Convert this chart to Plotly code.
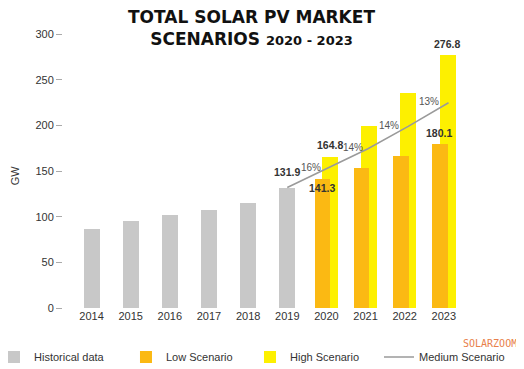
import plotly.graph_objects as go

hist_years = [2014, 2015, 2016, 2017, 2018, 2019]
hist_values = [86.5, 95, 102, 107.3, 115.3, 131.9]
scen_years = [2020, 2021, 2022, 2023]
low_values = [141.3, 153, 166.5, 180.1]
high_values = [164.8, 199, 235.5, 276.8]
med_years = [2019, 2020, 2021, 2022, 2023]
med_values = [131.9, 153.0, 174.4, 198.8, 224.7]
growth_labels = ["16%", "14%", "14%", "13%"]
tick_years = list(range(2014, 2024))
y_ticks = [0, 50, 100, 150, 200, 250, 300]

GRAY = "#c8c8c8"
ORANGE = "#fbb913"
YELLOW = "#fdf000"
LINE = "#9a9a9a"
TXT = "#333333"
FONT = "Liberation Sans, Arial, sans-serif"

fig = go.Figure()
fig.add_trace(go.Bar(x=hist_years, y=hist_values, name="Historical data",
                     marker=dict(color=GRAY, line=dict(width=0)),
                     offset=-0.205, width=0.41, legend="legend"))
fig.add_trace(go.Bar(x=scen_years, y=high_values, name="High Scenario",
                     marker=dict(color=YELLOW, line=dict(width=0)),
                     offset=-0.11, width=0.41, legend="legend3"))
fig.add_trace(go.Bar(x=scen_years, y=low_values, name="Low Scenario",
                     marker=dict(color=ORANGE, line=dict(width=0)),
                     offset=-0.30, width=0.40, legend="legend2"))
fig.add_trace(go.Scatter(x=[y + 0.03 * i for i, y in enumerate(med_years)],
                         y=med_values, name="Medium Scenario", mode="lines",
                         line=dict(color=LINE, width=1.5), legend="legend4"))

ann = []
vals = [
    (2019, 131.9, 0.0, 16),
    (2020, 164.8, 0.09, 12.5),
    (2020, 141.3, -0.10, -8.7),
    (2023, 180.1, -0.13, 10.6),
    (2023, 276.8, 0.08, 11),
]
for yr, v, dx, ys in vals:
    ann.append(dict(x=yr + dx, y=v, yshift=ys, text="<b>%.1f</b>" % v, showarrow=False,
                    font=dict(family=FONT, size=10.5, color=TXT), xref="x", yref="y"))
pct_dx = [-0.39, -0.31, -0.39, -0.39]
for yr, mv, lab, dx in zip(med_years[1:], med_values[1:], growth_labels, pct_dx):
    ann.append(dict(x=yr + dx, y=mv, yshift=1, text=lab, showarrow=False,
                    font=dict(family=FONT, size=10, color="#555555"), xref="x", yref="y"))

# title
ann.append(dict(x=0.46, y=1.022, xref="paper", yref="paper", yanchor="middle", xanchor="center",
                text="<b>TOTAL SOLAR PV MARKET</b><br><b>SCENARIOS <span style='font-size:13px'>2020 - 2023</span></b>",
                showarrow=False, align="center",
                font=dict(family="DejaVu Sans, sans-serif", size=17, color="#111111")))
# axis title
ann.append(dict(x=-0.117, y=0.485, xref="paper", yref="paper", xanchor="center", yanchor="middle",
                text="GW", showarrow=False, textangle=-90,
                font=dict(family=FONT, size=11, color=TXT)))
# watermark
ann.append(dict(x=1.044, y=-0.128, xref="paper", yref="paper", xanchor="center", yanchor="middle",
                text="SOLARZOOM", showarrow=False,
                font=dict(family="DejaVu Sans Mono, monospace", size=10, color="#e8804a")))

leg_common = dict(orientation="h", xref="paper", yref="paper", y=-0.179,
                  xanchor="left", yanchor="middle", bgcolor="rgba(0,0,0,0)",
                  font=dict(family=FONT, size=11, color=TXT), itemwidth=30)

fig.update_layout(
    width=516, height=361,
    margin=dict(l=55, r=52, t=26, b=61, autoexpand=False),
    paper_bgcolor="white", plot_bgcolor="white",
    barmode="overlay", bargap=0,
    showlegend=True,
    legend=dict(x=-0.1687, **leg_common),
    legend2=dict(x=0.1540, **leg_common),
    legend3=dict(x=0.4572, **leg_common),
    legend4=dict(x=0.7726, **leg_common),
    xaxis=dict(range=[2013.27, 2023.72], tickmode="array", tickvals=tick_years,
               ticktext=[str(t) for t in tick_years], showgrid=False, zeroline=False,
               showline=False, ticks="", tickfont=dict(family=FONT, size=11, color=TXT)),
    yaxis=dict(range=[0, 300], tickvals=y_ticks, showgrid=False, zeroline=False,
               showline=False, ticks="outside", ticklen=6, tickcolor="#aaaaaa", tickwidth=1,
               tickfont=dict(family=FONT, size=11, color=TXT)),
    annotations=ann,
)

fig.write_html("out.html")
